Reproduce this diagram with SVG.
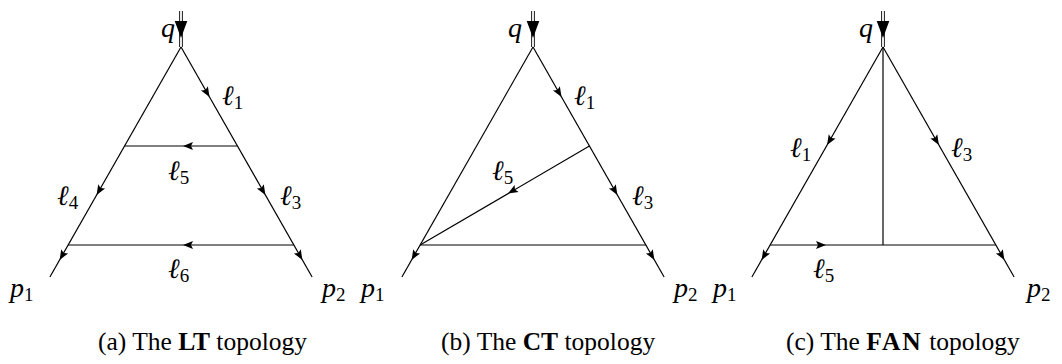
<svg xmlns="http://www.w3.org/2000/svg" width="1062" height="364" viewBox="0 0 1062 364">
<style>
.ln{stroke:#000;stroke-width:1.2;fill:none}
.ar{stroke:none;fill:none}
.dl{stroke:#000;stroke-width:0.9}
.m{font-family:"Liberation Serif","DejaVu Serif",serif;font-style:italic;font-size:28px;fill:#000}
.s{font-style:normal;font-size:19px}
.cap{font-family:"Liberation Serif","DejaVu Serif",serif;font-size:25.5px;fill:#000}
.b{font-weight:bold}
</style>
<defs>
<marker id="ar" markerUnits="userSpaceOnUse" markerWidth="12" markerHeight="10" refX="10" refY="4" orient="auto" overflow="visible">
<path d="M0,0 L10,4 L0,8 L2,4 Z" fill="#000"/>
</marker>
<g id="qarrow">
<line class="dl" x1="-1.4" y1="11" x2="-1.4" y2="47"/>
<line class="dl" x1="1.4" y1="11" x2="1.4" y2="47"/>
<path d="M-6.3,21 L6.3,21 L0,38 Z" fill="#000"/>
</g>
</defs>
<g id="connectors">
<!-- panel a -->
<path class="ln" d="M181,47 L312.1,277"/>
<path class="ln" d="M181,47 L49.9,277"/>
<path class="ln" d="M237.4,146 L124.6,146"/>
<path class="ln" d="M293.9,245 L68.1,245"/>
<path class="ar" d="M208.5,95.3 L209.5,97" marker-end="url(#ar)"/>
<path class="ar" d="M264.4,193.3 L265.4,195" marker-end="url(#ar)"/>
<path class="ar" d="M97.6,193.3 L96.6,195" marker-end="url(#ar)"/>
<path class="ar" d="M185,146 L183,146" marker-end="url(#ar)"/>
<path class="ar" d="M185,245 L183,245" marker-end="url(#ar)"/>
<path class="ar" d="M60.6,258.3 L59.6,260" marker-end="url(#ar)"/>
<path class="ar" d="M301.4,258.3 L302.4,260" marker-end="url(#ar)"/>
<!-- panel b -->
<path class="ln" d="M533,47 L664.1,277"/>
<path class="ln" d="M533,47 L401.9,277"/>
<path class="ln" d="M589.4,146 L420.1,245"/>
<path class="ln" d="M645.9,245 L420.1,245"/>
<path class="ar" d="M560.5,95.3 L561.5,97" marker-end="url(#ar)"/>
<path class="ar" d="M616.4,193.3 L617.4,195" marker-end="url(#ar)"/>
<path class="ar" d="M509.7,192.6 L508,193.6" marker-end="url(#ar)"/>
<path class="ar" d="M412.6,258.3 L411.6,260" marker-end="url(#ar)"/>
<path class="ar" d="M653.4,258.3 L654.4,260" marker-end="url(#ar)"/>
<!-- panel c -->
<path class="ln" d="M883,47 L1014.1,277"/>
<path class="ln" d="M883,47 L751.9,277"/>
<path class="ln" d="M770.1,245 L995.9,245"/>
<path class="ln" d="M883,47 L883,245"/>
<path class="ar" d="M937.9,143.3 L938.9,145" marker-end="url(#ar)"/>
<path class="ar" d="M828.1,143.3 L827.1,145" marker-end="url(#ar)"/>
<path class="ar" d="M824,245 L826,245" marker-end="url(#ar)"/>
<path class="ar" d="M762.6,258.3 L761.6,260" marker-end="url(#ar)"/>
<path class="ar" d="M1003.4,258.3 L1004.4,260" marker-end="url(#ar)"/>
</g>
<g id="q-a"><use href="#qarrow" x="181"/><text class="m" x="161" y="37">q</text></g>
<g id="q-b"><use href="#qarrow" x="533"/><text class="m" x="508" y="37">q</text></g>
<g id="q-c"><use href="#qarrow" x="883"/><text class="m" x="859" y="37">q</text></g>
<g id="labels-a">
<text class="m" x="222" y="105">ℓ<tspan class="s" dy="4">1</tspan></text>
<text class="m" x="168" y="180">ℓ<tspan class="s" dy="4">5</tspan></text>
<text class="m" x="57" y="205">ℓ<tspan class="s" dy="4">4</tspan></text>
<text class="m" x="280" y="205">ℓ<tspan class="s" dy="4">3</tspan></text>
<text class="m" x="168" y="278">ℓ<tspan class="s" dy="4">6</tspan></text>
<text class="m" x="10" y="297">p<tspan class="s" dy="4">1</tspan></text>
<text class="m" x="322" y="297">p<tspan class="s" dy="4">2</tspan></text>
</g>
<g id="labels-b">
<text class="m" x="574" y="105">ℓ<tspan class="s" dy="4">1</tspan></text>
<text class="m" x="492" y="180">ℓ<tspan class="s" dy="4">5</tspan></text>
<text class="m" x="632" y="205">ℓ<tspan class="s" dy="4">3</tspan></text>
<text class="m" x="361" y="297">p<tspan class="s" dy="4">1</tspan></text>
<text class="m" x="674" y="297">p<tspan class="s" dy="4">2</tspan></text>
</g>
<g id="labels-c">
<text class="m" x="790" y="157">ℓ<tspan class="s" dy="4">1</tspan></text>
<text class="m" x="951" y="157">ℓ<tspan class="s" dy="4">3</tspan></text>
<text class="m" x="813" y="278">ℓ<tspan class="s" dy="4">5</tspan></text>
<text class="m" x="713" y="297">p<tspan class="s" dy="4">1</tspan></text>
<text class="m" x="1027" y="297">p<tspan class="s" dy="4">2</tspan></text>
</g>
<g id="captions">
<text class="cap" x="98" y="350">(a) The <tspan class="b">LT</tspan> topology</text>
<text class="cap" x="441" y="350">(b) The <tspan class="b">CT</tspan> topology</text>
<text class="cap" x="786" y="350">(c) The <tspan class="b" letter-spacing="2">FAN</tspan> topology</text>
</g>
</svg>
